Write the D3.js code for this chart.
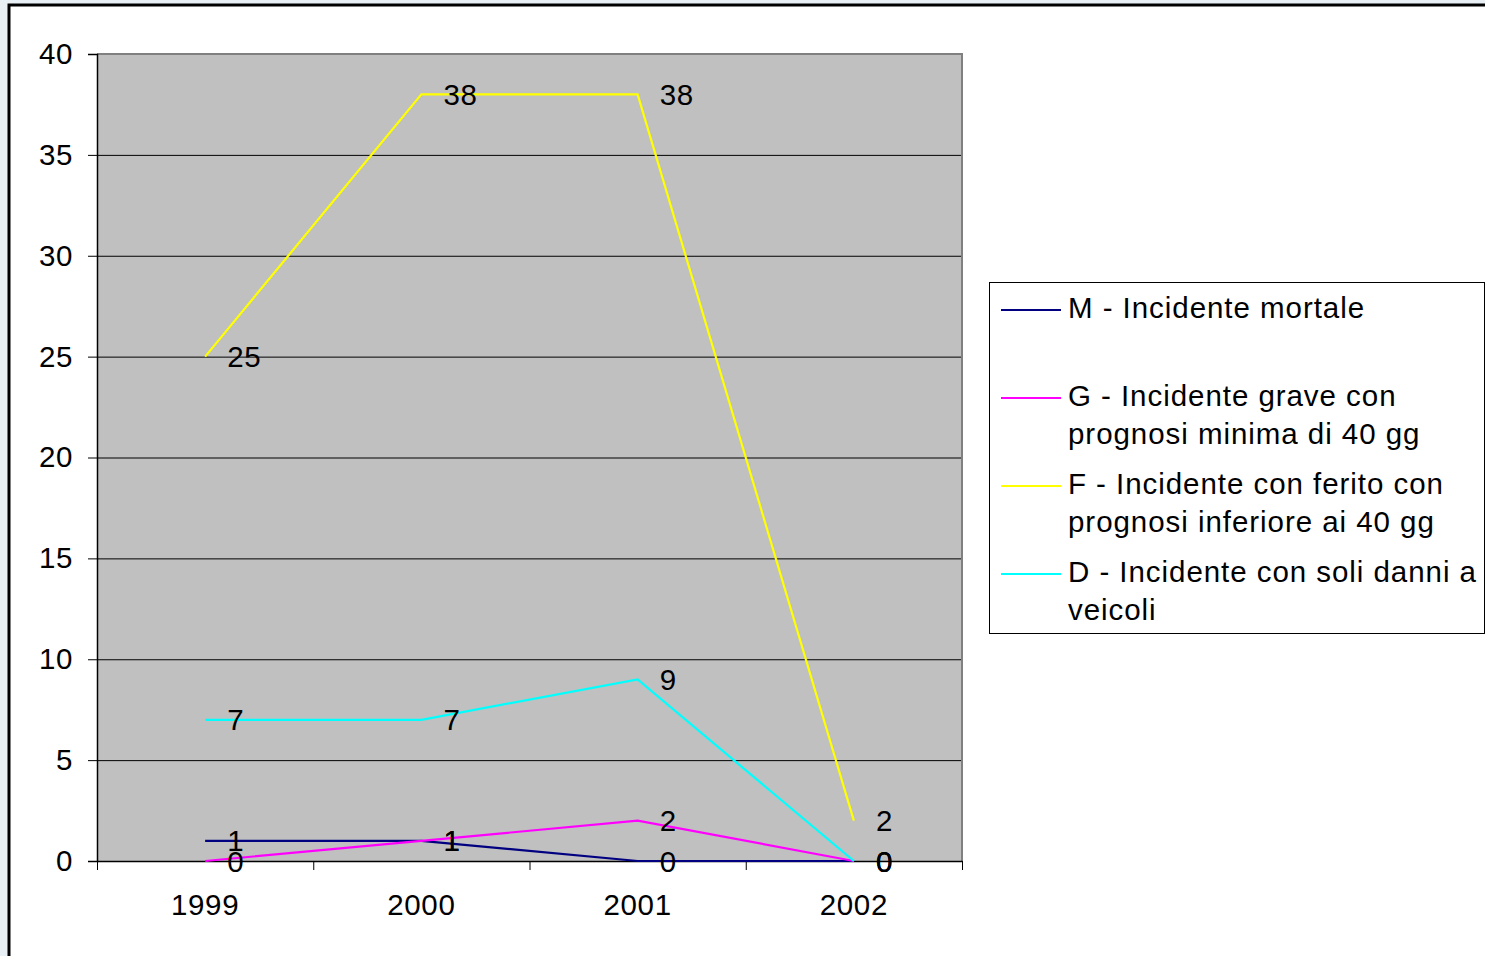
<!DOCTYPE html>
<html><head><meta charset="utf-8">
<script src="https://cdn.jsdelivr.net/npm/d3@7"></script>
<style>
html,body{margin:0;padding:0;background:#e8eff5;}
svg{display:block;}
text{font-family:"Liberation Sans",Arial,sans-serif;fill:#000;}
</style></head>
<body>
<script>
const years = ["1999","2000","2001","2002"];
const seriesNames = [
  ["M - Incidente mortale"],
  ["G - Incidente grave con","prognosi minima di 40 gg"],
  ["F - Incidente con ferito con","prognosi inferiore ai 40 gg"],
  ["D - Incidente con soli danni a","veicoli"]
];
const seriesColors = ["#000080","#FF00FF","#FFFF00","#00FFFF"];
const valuesM = [1,1,0,0];
const valuesG = [0,1,2,0];
const valuesF = [25,38,38,2];
const valuesD = [7,7,9,0];
const yTicks = [0,5,10,15,20,25,30,35,40];

const series = [valuesM, valuesG, valuesF, valuesD].map((v,i)=>({name:seriesNames[i], color:seriesColors[i], values:v}));

const W=1485, H=956, FS=29.5, LS="0.6px";
const svg = d3.select("body").append("svg").attr("width",W).attr("height",H);

// frame
svg.append("rect").attr("x",9).attr("y",5).attr("width",W+10).attr("height",H+10)
  .attr("fill","#fff").attr("stroke","#000").attr("stroke-width",3);

const pl=97, pr=962, pt=54, pb=861;
const x = d3.scaleBand().domain(years).range([pl,pr]).padding(0);
const y = d3.scaleLinear().domain([0,40]).range([pb,pt]);

// plot bg
svg.append("rect").attr("x",pl).attr("y",pt).attr("width",pr-pl).attr("height",pb-pt).attr("fill","#C0C0C0");

// gridlines
svg.append("g").selectAll("line").data(yTicks.filter(d=>d>0)).join("line")
  .attr("x1",pl).attr("x2",pr).attr("y1",d=>y(d)+0.5).attr("y2",d=>y(d)+0.5)
  .attr("stroke","#000").attr("stroke-width",1);

// plot border top/right
svg.append("path").attr("d",`M${pl},${pt} H${pr} V${pb}`).attr("fill","none").attr("stroke","#808080").attr("stroke-width",2);

// y axis
const yAxis = svg.append("g").attr("transform",`translate(${pl},0)`)
  .call(d3.axisLeft(y).tickValues(yTicks).tickSize(9).tickPadding(15).tickFormat(d3.format("d")));
yAxis.select(".domain").attr("stroke","#000").attr("stroke-width",1.5);
yAxis.selectAll(".tick line").attr("stroke","#000");
yAxis.selectAll("text").attr("font-size",FS).attr("letter-spacing",LS).attr("font-family","Liberation Sans, Arial, sans-serif").attr("fill","#000");

// x axis
const xAxis = svg.append("g").attr("transform",`translate(0,${pb})`)
  .call(d3.axisBottom(x).tickSize(0).tickPadding(33));
xAxis.select(".domain").attr("stroke","#000").attr("stroke-width",1.5);
xAxis.selectAll("text").attr("font-size",FS).attr("letter-spacing",LS).attr("font-family","Liberation Sans, Arial, sans-serif").attr("fill","#000");
// category boundary ticks
svg.append("g").selectAll("line").data(years.concat(["end"])).join("line")
  .attr("x1",(d,i)=>pl+i*x.bandwidth()+0.5).attr("x2",(d,i)=>pl+i*x.bandwidth()+0.5)
  .attr("y1",pb).attr("y2",pb+9).attr("stroke","#000").attr("stroke-width",1);

const cx = d=>x(d)+x.bandwidth()/2;
const line = d3.line().x((d,i)=>cx(years[i])).y(d=>y(d));

svg.append("g").selectAll("path").data(series).join("path")
  .attr("d",s=>line(s.values)).attr("fill","none").attr("stroke",s=>s.color).attr("stroke-width",2.2);

// data labels
series.forEach(s=>{
  svg.append("g").selectAll("text").data(s.values).join("text")
    .attr("x",(d,i)=>cx(years[i])+22).attr("y",d=>y(d))
    .attr("dy","0.36em").attr("font-size",FS).attr("letter-spacing",LS).text(d=>d);
});

// legend
const lg = svg.append("g");
lg.append("rect").attr("x",989.5).attr("y",282.5).attr("width",495).attr("height",351)
  .attr("fill","#fff").attr("stroke","#000").attr("stroke-width",1);
const legY=[310,398,486,574];
series.forEach((s,i)=>{
  lg.append("line").attr("x1",1001).attr("x2",1061).attr("y1",legY[i]).attr("y2",legY[i])
    .attr("stroke",s.color).attr("stroke-width",2);
  s.name.forEach((t,j)=>{
    lg.append("text").attr("x",1068).attr("y",legY[i]-3+j*38).attr("dy","0.36em")
      .attr("font-size",FS).attr("letter-spacing","0.95px").text(t);
  });
});
</script>
</body></html>
